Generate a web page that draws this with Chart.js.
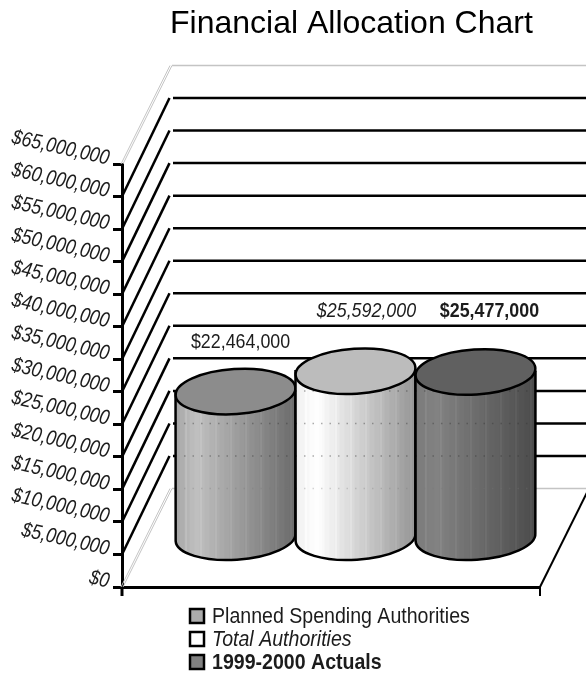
<!DOCTYPE html>
<html>
<head>
<meta charset="utf-8">
<title>Financial Allocation Chart</title>
<script src="https://cdn.jsdelivr.net/npm/chart.js@4/dist/chart.umd.min.js"></script>
<style>
  html, body { margin: 0; padding: 0; background: #fff; }
  canvas { display: block; }
</style>
</head>
<body>
<canvas id="myChart" width="586" height="673"></canvas>
<script>
const chartTitle = 'Financial Allocation Chart';
const categories = [''];
const seriesNames = ['Planned Spending Authorities', 'Total Authorities', '1999-2000 Actuals'];
const seriesValues = [22464000, 25592000, 25477000];
const yTickMax = 65000000;
const yTickStep = 5000000;

const sans = '"Liberation Sans", Arial, sans-serif';
const ink = '#1c1c1c';

// how far the back wall sits behind the front of the axes
const depthX = 49;
const depthY = -98.5;

// per series look: font style, cap colour, body shading (left, peak, right grey), label shift
const looks = [
  { font: '', cap: '#8c8c8c', swatch: '#ababab', left: 165, peak: 192, right: 108, labelX: 5, labelY: -49 },
  { font: 'italic ', cap: '#bcbcbc', swatch: '#ffffff', left: 238, peak: 255, right: 150, labelX: 11, labelY: -60 },
  { font: 'bold ', cap: '#606060', swatch: '#808080', left: 122, peak: 130, right: 76, labelX: 14, labelY: -61 }
];

const money = (v) => '$' + v.toLocaleString('en-US');

const greyAt = (look, t) => {
  const peakAt = 0.18;
  const g = t < peakAt
    ? look.left + (look.peak - look.left) * (t / peakAt)
    : look.peak + (look.right - look.peak) * ((t - peakAt) / (1 - peakAt));
  return Math.round(g);
};

// no narrow face is available, so squeeze the regular one sideways
const narrowText = (ctx, text, x, y, font, squeeze, align, angle) => {
  ctx.save();
  ctx.translate(x, y);
  ctx.rotate(angle || 0);
  ctx.scale(squeeze, 1);
  ctx.font = font;
  ctx.textAlign = align;
  ctx.textBaseline = 'middle';
  ctx.fillText(text, 0, 0);
  ctx.restore();
};

const backWall = {
  id: 'backWall',
  beforeDatasetsDraw(chart) {
    const { ctx, scales: { x, y } } = chart;
    const w = chart.width;
    ctx.save();
    y.ticks.forEach((tick) => {
      const py = y.getPixelForValue(tick.value);
      const edge = tick.value === 0 || tick.value === yTickMax;
      if (edge) {
        // the wall's outer edges are hairline grey doubles
        ctx.strokeStyle = '#c4c4c4';
        ctx.lineWidth = 1;
        [-1, 1].forEach((o) => {
          ctx.beginPath();
          ctx.moveTo(x.left + o, py);
          ctx.lineTo(x.left + depthX + o, py + depthY);
          ctx.stroke();
        });
        ctx.lineWidth = 1.5;
        ctx.beginPath();
        ctx.moveTo(x.left + depthX + 1, py + depthY);
        ctx.lineTo(w, py + depthY);
        ctx.stroke();
      } else {
        ctx.strokeStyle = '#000';
        ctx.lineWidth = 2.5;
        ctx.beginPath();
        ctx.moveTo(x.left, py);
        ctx.lineTo(x.left + depthX - 1.5, py + depthY);
        ctx.stroke();
        ctx.beginPath();
        ctx.moveTo(x.left + depthX + 2, py + depthY);
        ctx.lineTo(w, py + depthY);
        ctx.stroke();
      }
    });
    // right side of the floor
    const py0 = y.getPixelForValue(0);
    ctx.strokeStyle = '#000';
    ctx.lineWidth = 2;
    ctx.beginPath();
    ctx.moveTo(x.right, py0);
    ctx.lineTo(x.right + depthX, py0 + depthY);
    ctx.stroke();
    // axis ends poking below the floor
    ctx.lineWidth = 2;
    ctx.beginPath();
    ctx.moveTo(x.right, py0);
    ctx.lineTo(x.right, py0 + 9);
    ctx.stroke();
    ctx.lineWidth = 3;
    ctx.beginPath();
    ctx.moveTo(x.left, py0);
    ctx.lineTo(x.left, py0 + 9);
    ctx.stroke();
    ctx.restore();
  }
};

const cylinders = {
  id: 'cylinders',
  afterDatasetsDraw(chart) {
    const { ctx, scales: { y } } = chart;
    const rx = 60;
    const ry = 22.5;
    const tilt = -0.065;
    chart.data.datasets.forEach((ds, i) => {
      const bar = chart.getDatasetMeta(i).data[0];
      const look = looks[i];
      const cx = bar.x + depthX / 2;
      const top = bar.y + depthY / 2;
      const base = bar.base + depthY / 2;
      const left = cx - rx;

      const body = () => {
        ctx.beginPath();
        ctx.ellipse(cx, base, rx, ry, tilt, Math.PI, 0, true);
        ctx.lineTo(cx + rx, top);
        ctx.lineTo(cx - rx, top);
        ctx.closePath();
      };

      ctx.save();
      body();
      ctx.clip();
      // faceted shading, one vertical band at a time
      const band = 5;
      for (let k = 0; k * band < rx * 2 + band; k++) {
        const g = greyAt(look, (k + 0.5) * band / (rx * 2));
        ctx.fillStyle = `rgb(${g},${g},${g})`;
        ctx.fillRect(left + k * band - 1, top - ry, band + 1, base - top + ry * 3);
        if (k % 3 === 2) {
          const h = Math.min(255, g + 16);
          ctx.fillStyle = `rgb(${h},${h},${h})`;
          ctx.fillRect(left + k * band, top - ry, 1, base - top + ry * 3);
        }
      }
      // wall gridlines show through faintly as dots
      y.ticks.forEach((tick) => {
        const py = y.getPixelForValue(tick.value) + depthY;
        if (py < top + 15 || tick.value >= yTickMax) return;
        ctx.strokeStyle = tick.value === 0 ? 'rgba(120,120,120,0.3)' : 'rgba(50,50,50,0.4)';
        ctx.lineWidth = 1.5;
        ctx.setLineDash([1.5, 7]);
        ctx.beginPath();
        ctx.moveTo(left, py);
        ctx.lineTo(left + rx * 2, py);
        ctx.stroke();
      });
      ctx.restore();

      ctx.strokeStyle = '#000';
      ctx.lineWidth = 2.5;
      body();
      ctx.stroke();

      ctx.fillStyle = look.cap;
      ctx.beginPath();
      ctx.ellipse(cx, top, rx, ry, tilt, 0, Math.PI * 2);
      ctx.fill();
      ctx.stroke();

      ctx.fillStyle = ink;
      narrowText(ctx, money(ds.data[0]), cx + look.labelX, top + look.labelY, `${look.font}21px ${sans}`, 0.85, 'center');
    });
  }
};

const captions = {
  id: 'captions',
  afterDraw(chart) {
    const { ctx, scales: { y } } = chart;
    ctx.save();
    ctx.fillStyle = '#000';
    ctx.font = `32px ${sans}`;
    ctx.textAlign = 'left';
    ctx.textBaseline = 'alphabetic';
    ctx.fillText(chartTitle, 170, 33);

    // slanted tick labels
    ctx.fillStyle = ink;
    y.ticks.forEach((tick) => {
      const py = y.getPixelForValue(tick.value);
      narrowText(ctx, tick.label, 109, py - 5, `italic 21px ${sans}`, 0.85, 'right', 0.22);
    });

    seriesNames.forEach((name, i) => {
      const rowY = 616 + i * 23;
      ctx.fillStyle = looks[i].swatch;
      ctx.strokeStyle = '#000';
      ctx.lineWidth = 2.5;
      ctx.fillRect(190, rowY - 7, 14, 14);
      ctx.strokeRect(190, rowY - 7, 14, 14);
      ctx.fillStyle = ink;
      narrowText(ctx, name, 212, rowY + 1, `${looks[i].font}21.5px ${sans}`, 0.91, 'left');
    });
    ctx.restore();
  }
};

new Chart(document.getElementById('myChart').getContext('2d'), {
  type: 'bar',
  data: {
    labels: categories,
    datasets: seriesNames.map((name, i) => ({
      label: name,
      data: [seriesValues[i]],
      backgroundColor: 'transparent',
      barPercentage: 1,
      categoryPercentage: 0.861
    }))
  },
  plugins: [backWall, cylinders, captions],
  options: {
    responsive: false,
    animation: false,
    layout: { padding: { top: 164, right: 46, bottom: 86, left: 0 } },
    plugins: {
      legend: { display: false },
      title: { display: false },
      tooltip: { enabled: false }
    },
    scales: {
      x: {
        grid: { display: false },
        border: { color: '#000', width: 3 },
        ticks: { display: false },
        afterFit: (s) => { s.height = 0; }
      },
      y: {
        min: 0,
        max: yTickMax,
        afterFit: (s) => { s.width = 122; },
        grid: { drawOnChartArea: false, tickLength: 9, tickWidth: 3, tickColor: '#000' },
        border: { color: '#000', width: 3 },
        ticks: {
          stepSize: yTickStep,
          display: false,
          callback: (v) => money(v)
        }
      }
    }
  }
});
</script>
</body>
</html>
